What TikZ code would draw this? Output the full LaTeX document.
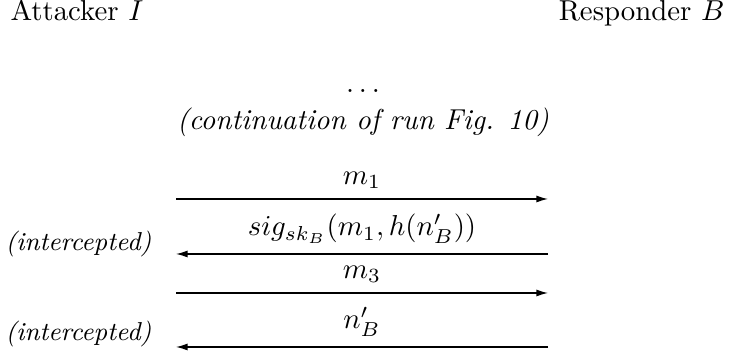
\documentclass[tikz,border=0pt]{standalone}
\usetikzlibrary{arrows.meta}
\begin{document}
\begin{tikzpicture}[x=0.347pt,y=-0.347pt,
  msg/.style={-{Latex[length=4pt,width=2.4pt]},line width=0.4pt},
  lbl/.style={above,midway},
  plain/.style={inner sep=0pt},
  note/.style={plain,font=\small\itshape,anchor=base west}]
\useasboundingbox (0,0) rectangle (729,360);
\node[plain,anchor=base west] (att) at (10,21) {Attacker $I$};
\node[plain,anchor=base east] (resp) at (725,21) {Responder $B$};
\node[plain,anchor=base] (dots) at (363,93) {$\ldots$};
\node[plain,anchor=base] (cont) at (363,130) {\textit{(continuation of run Fig. 10)}};
\coordinate (a1) at (176,199); \coordinate (b1) at (548,199);
\coordinate (a2) at (176,254); \coordinate (b2) at (548,254);
\coordinate (a3) at (176,293); \coordinate (b3) at (548,293);
\coordinate (a4) at (176,347); \coordinate (b4) at (548,347);
\draw[msg] (a1) -- node[lbl] (l1) {$m_1$} (b1);
\draw[msg] (b2) -- node[lbl] (l2) {$sig_{sk_B}(m_1,h(n'_B))$} (a2);
\draw[msg] (a3) -- node[lbl] (l3) {$m_3$} (b3);
\draw[msg] (b4) -- node[lbl] (l4) {$n'_B$} (a4);
\node[note] (i1) at (5,251) {(intercepted)};
\node[note] (i2) at (5,341) {(intercepted)};
\end{tikzpicture}
\end{document}
